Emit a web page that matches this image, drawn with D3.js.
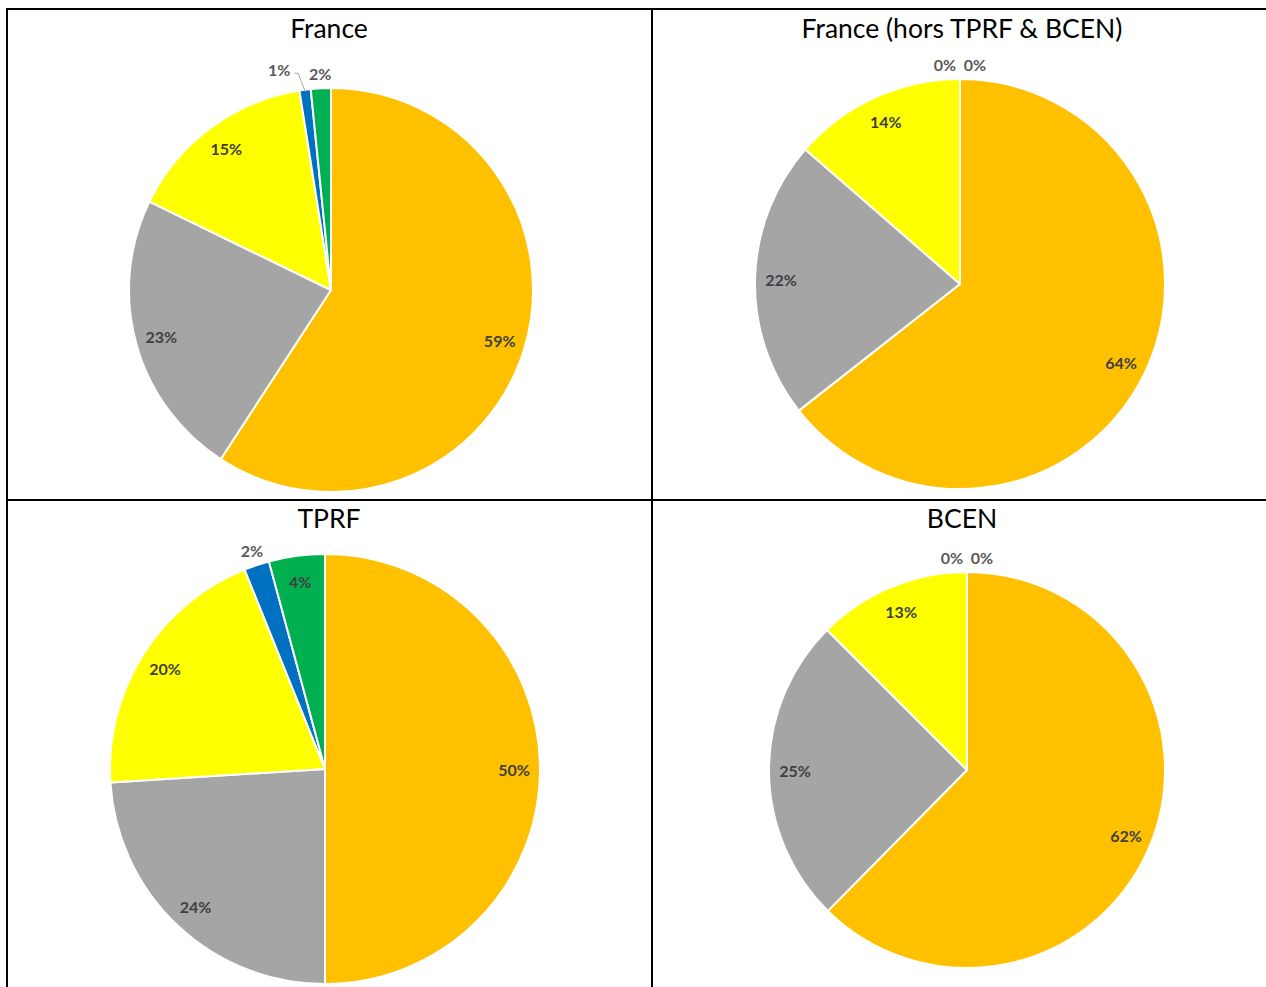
<!DOCTYPE html>
<html>
<head>
<meta charset="utf-8">
<script src="https://cdn.jsdelivr.net/npm/d3@7"></script>
<style>
  html, body { margin: 0; padding: 0; background: #fff; }
  svg { display: block; }
</style>
</head>
<body>
<svg id="chart" width="1266" height="987"></svg>
<script>
// ---- Data ----
const categories = ["Orange", "Gris", "Jaune", "Bleu", "Vert"];
const colors = ["#FFC000", "#A5A5A5", "#FFFF00", "#0070C0", "#00B050"];
const titles = ["France", "France (hors TPRF & BCEN)", "TPRF", "BCEN"];
const franceValues = [59.2, 23.0, 15.3, 0.9, 1.6];
const horsValues   = [64.4, 22.0, 13.6, 0.0, 0.0];
const tprfValues   = [50.0, 24.0, 19.9, 1.9, 4.2];
const bcenValues   = [62.4, 25.1, 12.5, 0.0, 0.0];

// ---- Layout ----
const panels = [
  { title: titles[0], values: franceValues, cx: 331, cy: 290, r: 202, tx: 329, ty: 38 },
  { title: titles[1], values: horsValues,   cx: 960, cy: 284, r: 205, tx: 962, ty: 38 },
  { title: titles[2], values: tprfValues,   cx: 325, cy: 769, r: 215, tx: 329, ty: 528 },
  { title: titles[3], values: bcenValues,   cx: 967, cy: 770, r: 198, tx: 962, ty: 528 }
];

const svg = d3.select("#chart");
const color = d3.scaleOrdinal().domain(categories).range(colors);
const pie = d3.pie().sort(null).value(d => d.value).startAngle(0).endAngle(2 * Math.PI);

panels.forEach(p => {
  const g = svg.append("g").attr("transform", `translate(${p.cx},${p.cy})`);
  const data = categories.map((c, i) => ({ cat: c, value: p.values[i] }));
  const arcs = pie(data);
  const arc = d3.arc().innerRadius(0).outerRadius(p.r);

  g.selectAll("path.slice").data(arcs).enter().append("path")
    .attr("class", "slice")
    .attr("d", arc)
    .attr("fill", d => color(d.data.cat))
    .attr("stroke", "#fff")
    .attr("stroke-width", 2)
    .attr("stroke-linejoin", "round");

  const inner = d3.arc().innerRadius(p.r - 26).outerRadius(p.r - 26);
  const outer = d3.arc().innerRadius(p.r + 15).outerRadius(p.r + 15);

  const fmt = v => Math.round(v) + "%";
  const labelFont = "bold 16px Lato, 'Liberation Sans', sans-serif";

  // inside labels
  arcs.filter(d => d.data.value >= 3).forEach(d => {
    const [x, y] = inner.centroid(d);
    g.append("text")
      .attr("x", x).attr("y", y)
      .attr("text-anchor", "middle")
      .attr("dominant-baseline", "central")
      .style("font", labelFont)
      .attr("fill", "#404040")
      .text(fmt(d.data.value));
  });

  // outside labels
  const outs = arcs.filter(d => d.data.value < 3).map(d => {
    const [x, y] = outer.centroid(d);
    return { d, x, y, w: 28, leader: false };
  });
  for (let i = outs.length - 1; i > 0; i--) {
    const a = outs[i - 1], b = outs[i];
    if (Math.abs(b.x - a.x) < a.w) {
      if (Math.abs(b.d.startAngle - a.d.startAngle) < 1e-6) {
        const m = (a.x + b.x) / 2;
        a.x = m - 15; b.x = m + 15;
      } else {
        a.x = b.x - (a.w + 13);
        a.y = Math.min(a.y, b.y) - 4;
        a.leader = true;
      }
    }
  }
  outs.forEach(o => {
    if (o.leader) {
      const mid = (o.d.startAngle + o.d.endAngle) / 2;
      const ex = Math.sin(mid) * (p.r - 2), ey = -Math.cos(mid) * (p.r - 2);
      const sx = o.x + o.w / 2 + 1, sy = o.y + 4;
      g.append("path")
        .attr("d", `M${sx},${sy} L${sx + 4},${sy} L${ex},${ey}`)
        .attr("fill", "none").attr("stroke", "#a6a6a6").attr("stroke-width", 1);
    }
    g.append("text")
      .attr("x", o.x).attr("y", o.y)
      .attr("text-anchor", "middle")
      .attr("dominant-baseline", "central")
      .style("font", labelFont)
      .attr("fill", "#595959")
      .text(fmt(o.d.data.value));
  });

  svg.append("text")
    .attr("x", p.tx).attr("y", p.ty)
    .attr("text-anchor", "middle")
    .style("font", "26.5px Lato, 'Liberation Sans', sans-serif")
    .attr("fill", "#000")
    .text(p.title);
});

// table borders
const lines = [
  [6, 9, 1266, 9],
  [7, 8, 7, 987],
  [652, 8, 652, 987],
  [6, 500, 1266, 500]
];
svg.selectAll("line.border").data(lines).enter().append("line")
  .attr("class", "border")
  .attr("x1", d => d[0]).attr("y1", d => d[1])
  .attr("x2", d => d[2]).attr("y2", d => d[3])
  .attr("stroke", "#000").attr("stroke-width", 2);
</script>
</body>
</html>
